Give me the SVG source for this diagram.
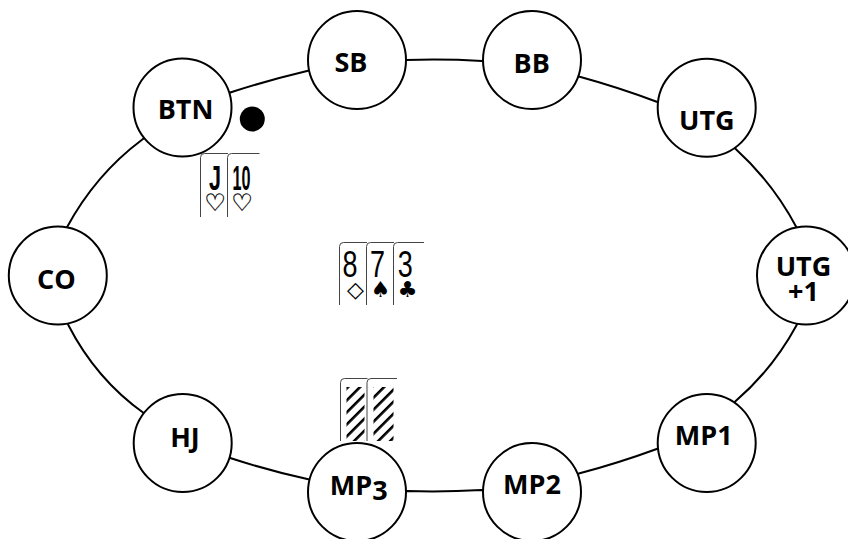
<svg xmlns="http://www.w3.org/2000/svg" width="848" height="539" viewBox="0 0 848 539">
<style>
.seat{fill:#fff;stroke:#000;stroke-width:2}
.lbl{font-family:"Open Sans","Liberation Sans",sans-serif;font-weight:700;font-size:27px;text-anchor:middle;fill:#000}
.edge{fill:none;stroke:#000;stroke-width:2}
.card{fill:none;stroke:#444;stroke-width:1}
.rank{font-family:"Liberation Sans",Arial,sans-serif;font-size:37px;text-anchor:middle;fill:#000}
.rankb{font-family:"Liberation Sans",Arial,sans-serif;font-weight:700;font-size:35px;text-anchor:middle;fill:#000}
.suit{font-family:"DejaVu Sans",sans-serif;font-size:22px;text-anchor:middle;fill:#000;font-variant-emoji:text}
.suith{font-family:"DejaVu Sans","Liberation Sans",sans-serif;font-size:24px;text-anchor:middle;fill:#000;stroke:#000;stroke-width:0.3;font-variant-emoji:text}
</style>
<defs>
<pattern id="hatch" width="8.5" height="8.5" patternUnits="userSpaceOnUse" patternTransform="rotate(45)">
<rect x="0" y="0" width="2.6" height="8.5" fill="#000"/>
</pattern>
</defs>
<rect width="848" height="539" fill="#fff"/>
<g id="connectors">
<path class="edge" d="M57.8,275.5 L66.7,227.7 Q95.8,174.2 141.7,140 L182.5,107.5"/>
<path class="edge" d="M182.5,107.5 L231,92.3 Q269,80 307,71 L357,60"/>
<path class="edge" d="M357,60 L406,60 Q444,58.7 482,61 L532,60"/>
<path class="edge" d="M532,60 L579.7,76.7 Q618.8,87.4 656.7,101.7 L706.7,107.7"/>
<path class="edge" d="M706.7,107.7 L735.7,149 Q772.8,182.7 796.7,227.7 L806,275.5"/>
<path class="edge" d="M806,275.5 L796.7,325 Q772.8,369 735.7,401 L706.7,443"/>
<path class="edge" d="M706.7,443 L656.7,449 Q618.8,462.9 579.7,473.3 L532,492"/>
<path class="edge" d="M532,492 L481.5,490 Q443.6,492.1 407.3,491 L357,492"/>
<path class="edge" d="M357,492 L308.3,479.3 Q269.4,470.8 231,458.3 L182.7,443"/>
<path class="edge" d="M182.7,443 L144,413.3 Q95.9,378.9 68.3,325 L57.8,275.5"/>
</g>
<g id="dealer-button"><circle cx="252.3" cy="119" r="12.5" fill="#000"/></g>
<g id="btn-cards">
<path class="card" d="M200.5,217 V157.5 Q200.5,153.5 204.5,153.5 H228"/>
<text class="rankb" x="215" y="190" textLength="12" lengthAdjust="spacingAndGlyphs">J</text>
<text class="suith" x="215" y="211">♡︎</text>
<rect x="227.5" y="154" width="32" height="63" fill="#fff"/>
<path class="card" d="M227.5,217 V157.5 Q227.5,153.5 231.5,153.5 H259.5"/>
<text class="rankb" x="241.5" y="190" textLength="18" lengthAdjust="spacingAndGlyphs">10</text>
<text class="suith" x="242" y="211">♡︎</text>
</g>
<g id="board-cards">
<path class="card" d="M339.5,305 V246.5 Q339.5,242.5 343.5,242.5 H367"/>
<text class="rank" x="350" y="276.5" textLength="15" lengthAdjust="spacingAndGlyphs">8</text>
<text class="suit" x="355.5" y="297">◇</text>
<rect x="366.5" y="243" width="31" height="62" fill="#fff"/>
<path class="card" d="M366.5,305 V246.5 Q366.5,242.5 370.5,242.5 H394"/>
<text class="rank" x="377.5" y="276.5" textLength="15" lengthAdjust="spacingAndGlyphs">7</text>
<text class="suit" x="380.5" y="297">♠</text>
<rect x="393.5" y="243" width="31" height="62" fill="#fff"/>
<path class="card" d="M393.5,305 V246.5 Q393.5,242.5 397.5,242.5 H424"/>
<text class="rank" x="405.3" y="276.5" textLength="15" lengthAdjust="spacingAndGlyphs">3</text>
<text class="suit" x="407.5" y="297">♣</text>
</g>
<g id="mp3-cards">
<path class="card" d="M340.5,441 V382.5 Q340.5,378.5 344.5,378.5 H367.5"/>
<rect x="346.5" y="387" width="18" height="54" fill="url(#hatch)"/>
<rect x="367" y="379" width="30" height="62" fill="#fff"/>
<path class="card" d="M367,441 V382.5 Q367,378.5 371,378.5 H397"/>
<rect x="373.5" y="387" width="20" height="54" fill="url(#hatch)"/>
</g>
<g id="seat-co"><circle class="seat" cx="57.8" cy="275.5" r="49"/><text class="lbl" x="56.3" y="288.7">CO</text></g>
<g id="seat-btn"><circle class="seat" cx="182.5" cy="107.5" r="49"/><text class="lbl" x="185.5" y="119">BTN</text></g>
<g id="seat-sb"><circle class="seat" cx="357" cy="60" r="49"/><text class="lbl" x="351" y="71.5">SB</text></g>
<g id="seat-bb"><circle class="seat" cx="532" cy="60" r="49"/><text class="lbl" x="531.7" y="73.3">BB</text></g>
<g id="seat-utg"><circle class="seat" cx="706.7" cy="107.7" r="49"/><text class="lbl" x="706.8" y="130">UTG</text></g>
<g id="seat-utg1"><circle class="seat" cx="806" cy="275.5" r="49"/><text class="lbl" x="803.5" y="276">UTG</text><text class="lbl" x="803.5" y="301">+1</text></g>
<g id="seat-mp1"><circle class="seat" cx="706.7" cy="443" r="49"/><text class="lbl" x="703.7" y="445">MP1</text></g>
<g id="seat-mp2"><circle class="seat" cx="532" cy="492" r="49"/><text class="lbl" x="532" y="494">MP2</text></g>
<g id="seat-mp3"><circle class="seat" cx="357" cy="492" r="49"/><text class="lbl" x="358.8" y="495">MP<tspan dy="5">3</tspan></text></g>
<g id="seat-hj"><circle class="seat" cx="182.7" cy="443" r="49"/><text class="lbl" x="185" y="447.3">HJ</text></g>
</svg>
